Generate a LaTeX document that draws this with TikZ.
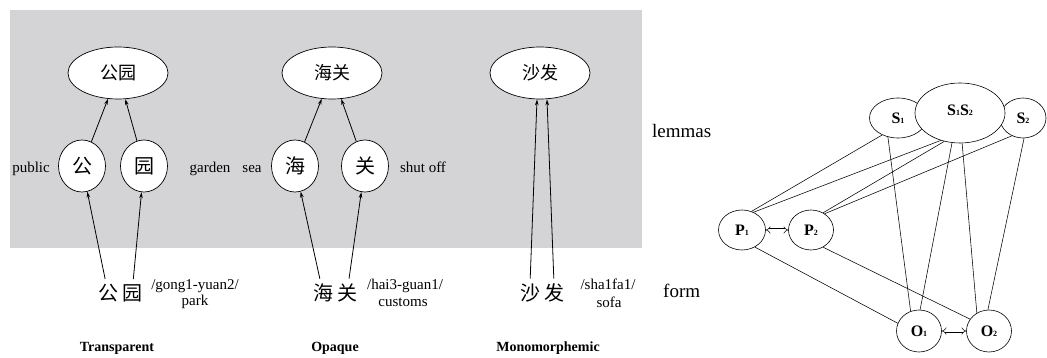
\documentclass[tikz,border=0pt]{standalone}
\usepackage{fontspec}
\usepackage{graphicx}
\setmainfont{Liberation Serif}
\newfontfamily\cjk{Noto Sans CJK SC}
\usetikzlibrary{shapes.geometric,arrows.meta}
\definecolor{bggray}{RGB}{212,212,214}
\newcommand\sbd[1]{{\fontsize{8}{8}\selectfont #1}}
\begin{document}
\begin{tikzpicture}[x=1pt,y=-1pt,
 lbl/.style={font=\fontsize{15}{15}\selectfont, anchor=base, inner sep=0},
 big/.style={font=\fontsize{19}{19}\selectfont, anchor=base west, inner sep=0},
 ttl/.style={font=\bfseries\fontsize{14}{14}\selectfont, anchor=base, inner sep=0},
 lem/.style={ellipse, draw, fill=white, line width=0.7pt, minimum width=100pt, minimum height=52pt, inner sep=0, font=\cjk\fontsize{18}{18}\selectfont},
 mor/.style={ellipse, draw, fill=white, line width=0.7pt, minimum width=47pt, minimum height=52pt, inner sep=0, font=\cjk\fontsize{20}{20}\selectfont},
 chr/.style={inner sep=0, font=\cjk\fontsize{20}{20}\selectfont},
 arr/.style={-{Stealth[length=6pt,width=3.6pt]}, line width=0.8pt},
 nd/.style={ellipse, draw, fill=white, inner sep=0, line width=0.6pt, font=\bfseries\fontsize{16}{16}\selectfont},
 lnk/.style={line width=0.55pt},
 dbl/.style={double, double distance=2pt, line width=0.5pt, {Implies}-{Implies}}
]
\useasboundingbox (0,0) rectangle (1047,358);
\fill[bggray] (10,10) rectangle (642,248);

% lemma ellipses
\node[lem] (e1) at (118,73) {公园};
\node[lem] (e2) at (332,73) {海关};
\node[lem] (e3) at (540,73) {沙发};
% morpheme circles
\node[mor] (c1) at (82,166) {公};
\node[mor] (c2) at (144,166) {园};
\node[mor] (c3) at (295,166) {海};
\node[mor] (c4) at (365,166) {关};
% form characters
\node[chr] (f1) at (108,293) {公};
\node[chr] (f2) at (132,293) {园};
\node[chr] (f3) at (323,293) {海};
\node[chr] (f4) at (347,293) {关};
\node[chr] (f5) at (530,293) {沙};
\node[chr] (f6) at (554,293) {发};

% arrows
\draw[arr] (c1) -- (e1);
\draw[arr] (c2) -- (e1);
\draw[arr] (c3) -- (e2);
\draw[arr] (c4) -- (e2);
\draw[arr, shorten <=5pt] (f1) -- (c1);
\draw[arr, shorten <=5pt] (f2) -- (c2);
\draw[arr, shorten <=5pt] (f3) -- (c3);
\draw[arr, shorten <=5pt] (f4) -- (c4);
\draw[arr, shorten <=5pt] (f5.north) -- ([xshift=-3pt]e3.south);
\draw[arr, shorten <=5pt] (f6.north) -- ([xshift=7pt]e3.south);

% meaning labels
\node[lbl] (l1) at (31,173) {public};
\node[lbl] (l2) at (210,173) {garden};
\node[lbl] (l3) at (252,173) {sea};
\node[lbl] (l4) at (423,173) {shut off};
% pronunciations
\node[lbl] (p1) at (195,289) {/gong1-yuan2/};
\node[lbl] (p1b) at (195,305) {park};
\node[lbl] (p2) at (405,289) {/hai3-guan1/};
\node[lbl] (p2b) at (403,306) {customs};
\node[lbl] (p3) at (608,289) {/sha1fa1/};
\node[lbl] (p3b) at (609,307) {sofa};
% titles
\node[ttl] (t1) at (117,351) {Transparent};
\node[ttl] (t2) at (335,351) {Opaque};
\node[ttl] (t3) at (548,351) {Monomorphemic};
% levels
\node[big] (lv1) at (652,138) {lemmas};
\node[big] (lv2) at (663,297) {form};

% right diagram
\node[nd, minimum width=57pt, minimum height=40pt] (S1) at (898,118) {S\sbd{1}};
\node[nd, minimum width=46pt, minimum height=40pt] (S2) at (1023,118) {S\sbd{2}};
\node[nd, minimum width=90pt, minimum height=60pt] (S12) at (960,113) {\raisebox{5pt}{S\sbd{1}S\sbd{2}}};
\node[nd, minimum width=47pt, minimum height=40pt] (P1) at (742,230) {P\sbd{1}};
\node[nd, minimum width=45pt, minimum height=40pt] (P2) at (811,230) {P\sbd{2}};
\node[nd, minimum width=45pt, minimum height=42pt] (O1) at (919,331) {O\sbd{1}};
\node[nd, minimum width=45pt, minimum height=42pt] (O2) at (989,331) {O\sbd{2}};

\draw[lnk] (S1.227) -- (P1.63);
\draw[lnk] (S1.242) -- (O1.113);
\draw[lnk] (S12.235) -- (P1.57);
\draw[lnk] (S12.241) -- (P2.55);
\draw[lnk] (S12.255) -- (O1.87);
\draw[lnk] (S12.274) -- (O2.124);
\draw[lnk] (S2.238) -- (P2.50);
\draw[lnk] (S2.273) -- (O2.93);
\draw[lnk] (P1.307) -- (O1.160);
\draw[lnk] (P2.305) -- (O2.148);
\draw[dbl] (P1) -- (P2);
\draw[dbl] (O1) -- (O2);
\end{tikzpicture}
\end{document}
